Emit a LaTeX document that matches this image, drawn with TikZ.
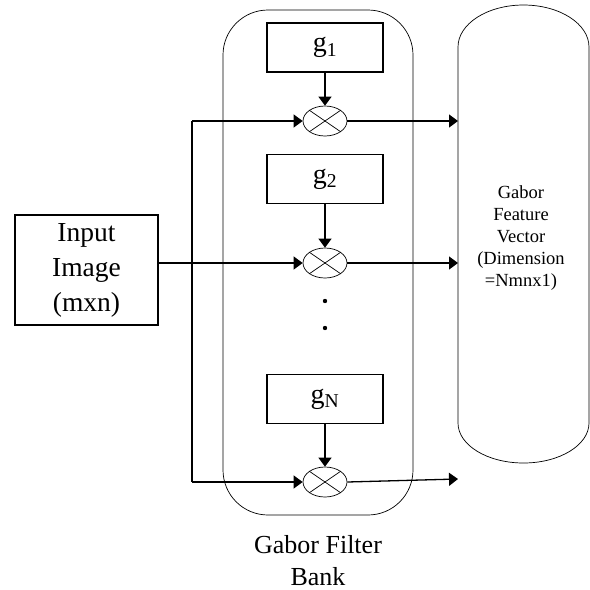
\documentclass[tikz,border=0pt]{standalone}
\usepackage{fontspec}
\setmainfont{Liberation Serif}
\usetikzlibrary{arrows.meta,shapes.geometric}
\begin{document}
\begin{tikzpicture}[x=1pt,y=-1pt,
 box/.style={draw,line width=1.3pt,minimum width=116pt,minimum height=49pt,inner sep=0pt,font=\fontsize{28}{30}\selectfont},
 mult/.style={draw,ellipse,line width=0.7pt,minimum width=44pt,minimum height=30pt,inner sep=0pt},
 arr/.style={line width=1.3pt,-{Triangle[length=9pt,width=13pt]}},
 wire/.style={line width=1.3pt},
 outline/.style={line width=0.7pt}]
\useasboundingbox (0,0) rectangle (590,590);
% filter bank outline
\draw[outline,rounded corners=45pt] (223,10) rectangle (413,515);
% feature vector outline
\draw[outline] (458,423) -- (458,47) arc[start angle=180,end angle=0,x radius=65.5pt,y radius=42pt]
  -- (589,423) arc[start angle=0,end angle=-180,x radius=65.5pt,y radius=40pt] -- cycle;
% input box
\node[draw,line width=1.3pt,minimum width=143pt,minimum height=110pt,inner sep=0pt,align=center,
  font=\fontsize{27.5}{35}\selectfont] (in) at (86.5,270) {Input\\Image\\(mxn)};
% filters
\node[box] (g1) at (325,47.5) {g\textsubscript{1}};
\node[box] (g2) at (325,179) {g\textsubscript{2}};
\node[box] (gN) at (325,399) {g\textsubscript{N}};
% multipliers
\node[mult] (m1) at (325,121) {};
\node[mult] (m2) at (325,263) {};
\node[mult] (m3) at (325,482) {};
\foreach \m in {m1,m2,m3}
  \draw[outline] (\m.north east)--(\m.south west) (\m.north west)--(\m.south east);
% dots
\fill (325,301) circle (2.2pt);
\fill (325,328) circle (2.2pt);
% bus
\coordinate (b1) at (192,121);
\coordinate (b3) at (192,482);
\draw[wire] (b1) -- (b3);
\draw[arr] (in.east |- m2.west) -- (m2.west);
\draw[arr] (b1) -- (m1.west);
\draw[arr] (b3) -- (m3.west);
\draw[arr] (g1) -- (m1);
\draw[arr] (g2) -- (m2);
\draw[arr] (gN) -- (m3);
% outputs
\coordinate (v1) at (458,121);
\coordinate (v2) at (458,263);
\coordinate (v3) at (458,479);
\draw[arr] (m1.east) -- (v1);
\draw[arr] (m2.east) -- (v2);
\draw[arr] (m3.east) -- (v3);
% labels
\node[align=center,font=\fontsize{26}{32}\selectfont] (fb) at (318,561) {Gabor Filter\\Bank};
\node[align=center,font=\fontsize{18.5}{22}\selectfont] (fv) at (521,238) {Gabor\\Feature\\Vector\\(Dimension\\=Nmnx1)};
\end{tikzpicture}
\end{document}
